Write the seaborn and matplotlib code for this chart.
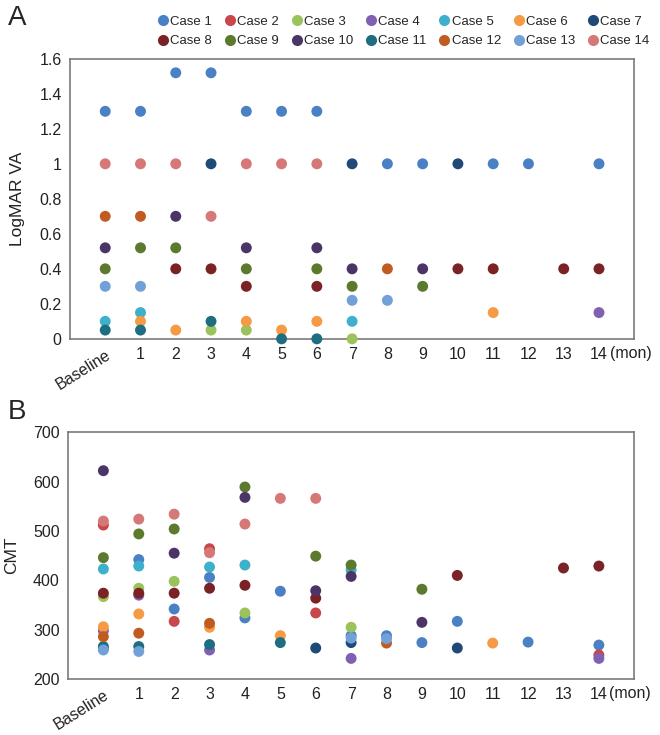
import numpy as np
import pandas as pd
import seaborn as sns
import matplotlib.pyplot as plt
from matplotlib.lines import Line2D

N = None
months = ["Baseline", "1", "2", "3", "4", "5", "6", "7", "8", "9", "10", "11", "12", "13", "14"]
cases = ["Case %d" % i for i in range(1, 15)]
colors = ["#4a80c4", "#c9474b", "#9cc35b", "#8060b0", "#3fb0cc", "#f79a45", "#1f4a78",
          "#7a2226", "#5b7a2d", "#4b3567", "#1f6d80", "#c05c22", "#72a0d8", "#d67878"]

# LogMAR VA, one list per case, Baseline..14 months
va_case1 = [1.3, 1.3, 1.52, 1.52, 1.3, 1.3, 1.3, N, 1.0, 1.0, N, 1.0, 1.0, N, 1.0]
va_case2 = [N, N, N, N, N, N, N, N, N, N, N, N, N, N, N]
va_case3 = [N, N, N, 0.05, 0.05, N, N, 0.0, N, N, N, N, N, N, N]
va_case4 = [N, N, N, N, N, N, N, N, N, N, N, N, N, N, 0.15]
va_case5 = [0.1, 0.15, N, N, N, N, N, 0.1, N, N, N, N, N, N, N]
va_case6 = [N, 0.1, 0.05, N, 0.1, 0.05, 0.1, N, N, N, N, 0.15, N, N, N]
va_case7 = [N, N, N, 1.0, N, N, N, 1.0, N, N, 1.0, N, N, N, N]
va_case8 = [N, N, 0.4, 0.4, 0.3, N, 0.3, N, N, N, 0.4, 0.4, N, 0.4, 0.4]
va_case9 = [0.4, 0.52, 0.52, N, 0.4, N, 0.4, 0.3, N, 0.3, N, N, N, N, N]
va_case10 = [0.52, N, 0.7, N, 0.52, N, 0.52, 0.4, N, 0.4, N, N, N, N, N]
va_case11 = [0.05, 0.05, N, 0.1, N, 0.0, 0.0, N, N, N, N, N, N, N, N]
va_case12 = [0.7, 0.7, N, N, N, N, N, N, 0.4, N, N, N, N, N, N]
va_case13 = [0.3, 0.3, N, N, N, N, N, 0.22, 0.22, N, N, N, N, N, N]
va_case14 = [1.0, 1.0, 1.0, 0.7, 1.0, 1.0, 1.0, N, N, N, N, N, N, N, N]

# CMT, one list per case, Baseline..14 months
cmt_case1 = [262, 442, 342, 406, 324, 378, N, 288, 288, 274, 317, N, 275, N, 269]
cmt_case2 = [512, N, 317, 464, N, N, 334, N, N, N, N, N, N, N, 249]
cmt_case3 = [367, 384, 398, N, 334, N, N, 305, N, N, N, N, N, N, N]
cmt_case4 = [298, 370, N, 259, N, N, N, 242, N, N, N, N, N, N, 242]
cmt_case5 = [423, 429, N, 427, 431, N, N, 421, N, N, N, N, N, N, N]
cmt_case6 = [306, 332, N, 305, N, 288, N, N, N, N, N, 273, N, N, N]
cmt_case7 = [N, N, N, N, N, N, 263, 274, N, N, 263, N, N, N, N]
cmt_case8 = [374, 374, 374, 384, 390, N, 364, N, N, N, 410, N, N, 425, 429]
cmt_case9 = [446, 494, 504, N, 589, N, 449, 431, N, 382, N, N, N, N, N]
cmt_case10 = [622, N, 455, N, 568, N, 379, 408, N, 315, N, N, N, N, N]
cmt_case11 = [266, 266, N, 270, N, 274, N, N, N, N, N, N, N, N, N]
cmt_case12 = [286, 293, N, 313, N, N, N, N, 273, N, N, N, N, N, N]
cmt_case13 = [259, 256, N, N, N, N, N, 283, 282, N, N, N, N, N, N]
cmt_case14 = [520, 524, 534, 456, 514, 566, 566, N, N, N, N, N, N, N, N]

va_all = [va_case1, va_case2, va_case3, va_case4, va_case5, va_case6, va_case7,
          va_case8, va_case9, va_case10, va_case11, va_case12, va_case13, va_case14]
cmt_all = [cmt_case1, cmt_case2, cmt_case3, cmt_case4, cmt_case5, cmt_case6, cmt_case7,
           cmt_case8, cmt_case9, cmt_case10, cmt_case11, cmt_case12, cmt_case13, cmt_case14]


def to_long(series):
    rows = []
    for case, vals in zip(cases, series):
        for m, v in enumerate(vals):
            if v is not None:
                rows.append({"case": case, "month": m, "value": v})
    return pd.DataFrame(rows)


palette = dict(zip(cases, colors))
sns.set_style("white")
plt.rcParams["font.family"] = ["Liberation Sans", "DejaVu Sans"]

fig = plt.figure(figsize=(6.6, 7.35), dpi=100)
ax_a = fig.add_axes([0.106, 0.539, 0.855, 0.381])
ax_b = fig.add_axes([0.103, 0.076, 0.858, 0.336])

for ax, series, ylabel in [(ax_a, va_all, "LogMAR VA"), (ax_b, cmt_all, "CMT")]:
    df = to_long(series)
    sns.scatterplot(data=df, x="month", y="value", hue="case", hue_order=cases,
                    palette=palette, s=62, linewidth=0, alpha=1, ax=ax,
                    legend=False, clip_on=False, zorder=3)
    ax.set_xlim(-1, 15)
    ax.set_xticks(range(15))
    ax.set_xticklabels(months, fontsize=11.5, color="#222222")
    lbl = ax.get_xticklabels()[0]
    lbl.set_rotation(32)
    lbl.set_ha("right")
    lbl.set_rotation_mode("anchor")
    ax.set_xlabel("")
    ax.set_ylabel(ylabel, fontsize=12.5, color="#222222", labelpad=10)
    ax.tick_params(length=0, pad=6, labelsize=11.5, colors="#222222")
    for sp in ax.spines.values():
        sp.set_color("#7a7a7a")
        sp.set_linewidth(1.2)
    ax.annotate("(mon)", xy=(14.3, 0), xycoords=ax.get_xaxis_transform(),
                xytext=(0, -5), textcoords="offset points", va="top",
                ha="left", fontsize=11.5, color="#222222")

ax_a.set_ylim(0, 1.6)
ax_a.set_yticks(np.arange(0, 1.61, 0.2))
ax_a.set_yticklabels(["0", "0.2", "0.4", "0.6", "0.8", "1", "1.2", "1.4", "1.6"])
ax_b.set_ylim(200, 700)
ax_b.set_yticks(range(200, 701, 100))

# legend filled row by row: Case 1-7 on top, Case 8-14 below
order = []
for i in range(7):
    order += [i, i + 7]
handles = [Line2D([], [], marker="o", linestyle="", markersize=8,
                  markerfacecolor=colors[i], markeredgewidth=0) for i in order]
labels = [cases[i] for i in order]
fig.legend(handles, labels, loc="upper right", bbox_to_anchor=(1.0, 0.993), ncol=7,
           frameon=False, fontsize=9.5, handlelength=0.8, handletextpad=0.15,
           columnspacing=0.95, labelspacing=0.55, borderpad=0.3)

fig.text(0.012, 0.975, "A", fontsize=20, va="center")
fig.text(0.012, 0.44, "B", fontsize=20, va="center")

fig.savefig("out.png", dpi=100)
